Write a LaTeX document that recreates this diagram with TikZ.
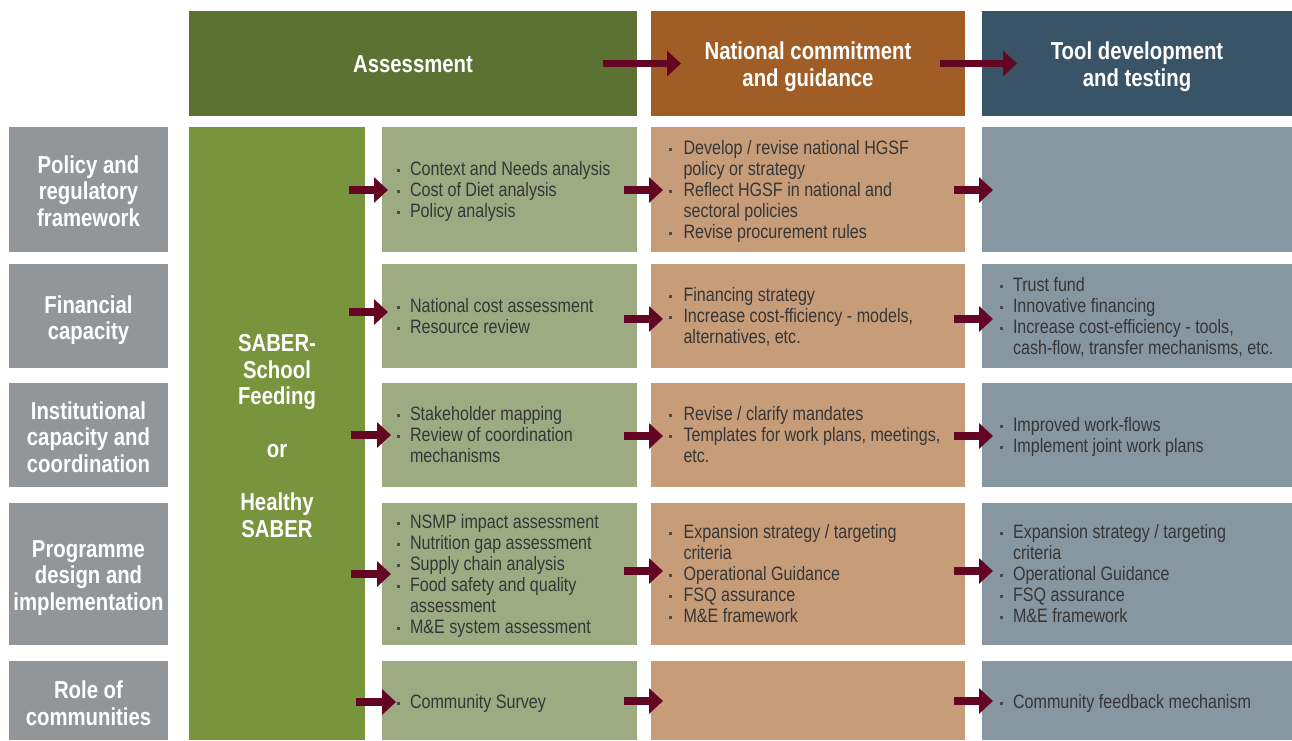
\documentclass[tikz,border=0pt]{standalone}
\usepackage{fontspec}
\setmainfont{Liberation Sans}[FakeStretch=0.83]
\newfontfamily\hdfont{Liberation Sans}[FakeStretch=0.83]
\usetikzlibrary{arrows.meta,calc}
\definecolor{hdA}{HTML}{5B7233}
\definecolor{hdN}{HTML}{A05E26}
\definecolor{hdT}{HTML}{395467}
\definecolor{labc}{HTML}{939698}
\definecolor{saberc}{HTML}{78943C}
\definecolor{grc}{HTML}{9CAB82}
\definecolor{orc}{HTML}{C69C79}
\definecolor{tlc}{HTML}{8697A1}
\definecolor{arrc}{HTML}{640623}
\definecolor{bodyc}{HTML}{363636}
\definecolor{bulc}{HTML}{4A4A4A}
\newcommand{\bul}{\makebox[13pt][l]{\textcolor{bulc}{\rule[3.5pt]{3pt}{3pt}}}}
\newcommand{\bulo}{\makebox[14.5pt][l]{\textcolor{bulc}{\rule[3.5pt]{3pt}{3pt}}}}
\newcommand{\bodyf}{\fontsize{19.4}{21}\selectfont}
\newcommand{\headf}{\hdfont\bfseries\fontsize{24.5}{26.5}\selectfont}
\tikzset{
  box/.style={inner sep=0pt, outer sep=0pt, draw=none, anchor=north west},
  headbox/.style={box, minimum height=105pt},
  labbox/.style={box, fill=labc, minimum width=159pt},
  headtxt/.style={inner sep=0pt, text=white, align=center, font=\headf},
  grbox/.style={box, fill=grc, minimum width=255pt},
  orbox/.style={box, fill=orc, minimum width=314pt},
  tlbox/.style={box, fill=tlc, minimum width=310pt},
  txt/.style={inner sep=0pt, outer sep=0pt, anchor=west, font=\bodyf, text=bodyc},
  arr/.style={draw=arrc, line width=7.5pt, -{Triangle[length=14pt,width=25pt]}},
}
\begin{document}
\begin{tikzpicture}[x=1pt,y=-1pt]
\useasboundingbox[fill=white] (0,0) rectangle (1292,740);
% headers
\node[headbox, fill=hdA, minimum width=448pt] (hA) at (189,11) {};
\node[headbox, fill=hdN, minimum width=314pt] (hN) at (651,11) {};
\node[headbox, fill=hdT, minimum width=310pt] (hT) at (982,11) {};
\node[headtxt] (hAt) at ($(hA.center)+(0,1)$) {Assessment};
\node[headtxt] (hNt) at ($(hN.center)+(0,3)$) {National commitment\\and guidance};
\node[headtxt] (hTt) at ($(hT.center)+(0,3)$) {Tool development\\and testing};
% row labels
\node[labbox, minimum height=125pt] (L1) at (9,127) {};
\node[labbox, minimum height=104pt] (L2) at (9,264) {};
\node[labbox, minimum height=104pt] (L3) at (9,383) {};
\node[labbox, minimum height=142pt] (L4) at (9,503) {};
\node[labbox, minimum height=79pt] (L5) at (9,661) {};
\node[headtxt] (L1t) at ($(L1.center)+(0,1.5)$) {Policy and\\regulatory\\framework};
\node[headtxt] (L2t) at ($(L2.center)+(0,4)$) {Financial\\capacity};
\node[headtxt] (L3t) at ($(L3.center)+(0,2)$) {Institutional\\capacity and\\coordination};
\node[headtxt] (L4t) at ($(L4.center)+(0,4)$) {Programme\\design and\\implementation};
\node[headtxt] (L5t) at ($(L5.center)+(0,2.5)$) {Role of\\communities};
% SABER column
\node[box, fill=saberc, minimum width=176pt, minimum height=613pt] (S) at (189,127) {};
\node[headtxt] (St) at ($(S.center)+(0,2.5)$)
  {SABER-\\School\\Feeding\\[26.5pt]or\\[26.5pt]Healthy\\SABER};
% content boxes
\node[grbox, minimum height=125pt] (g1) at (382,127) {};
\node[grbox, minimum height=104pt] (g2) at (382,264) {};
\node[grbox, minimum height=104pt] (g3) at (382,383) {};
\node[grbox, minimum height=142pt] (g4) at (382,503) {};
\node[grbox, minimum height=79pt] (g5) at (382,661) {};
\node[orbox, minimum height=125pt] (o1) at (651,127) {};
\node[orbox, minimum height=104pt] (o2) at (651,264) {};
\node[orbox, minimum height=104pt] (o3) at (651,383) {};
\node[orbox, minimum height=142pt] (o4) at (651,503) {};
\node[orbox, minimum height=79pt] (o5) at (651,661) {};
\node[tlbox, minimum height=125pt] (t1) at (982,127) {};
\node[tlbox, minimum height=104pt] (t2) at (982,264) {};
\node[tlbox, minimum height=104pt] (t3) at (982,383) {};
\node[tlbox, minimum height=142pt] (t4) at (982,503) {};
\node[tlbox, minimum height=79pt] (t5) at (982,661) {};
% texts
\node[txt] (xg1) at ($(g1.west)+(15,2.5)$) {\begin{tabular}{@{}l@{}l@{}}\bul&Context and Needs analysis\\\bul&Cost of Diet analysis\\\bul&Policy analysis\end{tabular}};
\node[txt] (xg2) at ($(g2.west)+(15,2.5)$) {\begin{tabular}{@{}l@{}l@{}}\bul&National cost assessment\\\bul&Resource review\end{tabular}};
\node[txt] (xg3) at ($(g3.west)+(15,2.5)$) {\begin{tabular}{@{}l@{}l@{}}\bul&Stakeholder mapping\\\bul&Review of coordination\\&mechanisms\end{tabular}};
\node[txt] (xg4) at ($(g4.west)+(15,2.5)$) {\begin{tabular}{@{}l@{}l@{}}\bul&NSMP impact assessment\\\bul&Nutrition gap assessment\\\bul&Supply chain analysis\\\bul&Food safety and quality\\&assessment\\\bul&M\&E system assessment\end{tabular}};
\node[txt] (xg5) at ($(g5.west)+(15,3.5)$) {\begin{tabular}{@{}l@{}l@{}}\bul&Community Survey\end{tabular}};
\node[txt] (xo1) at ($(o1.west)+(18,2.5)$) {\begin{tabular}{@{}l@{}l@{}}\bulo&Develop / revise national HGSF\\&policy or strategy\\\bulo&Reflect HGSF in national and\\&sectoral policies\\\bulo&Revise procurement rules\end{tabular}};
\node[txt] (xo2) at ($(o2.west)+(18,2.5)$) {\begin{tabular}{@{}l@{}l@{}}\bulo&Financing strategy\\\bulo&Increase cost-fficiency - models,\\&alternatives, etc.\end{tabular}};
\node[txt] (xo3) at ($(o3.west)+(18,2.5)$) {\begin{tabular}{@{}l@{}l@{}}\bulo&Revise / clarify mandates\\\bulo&Templates for work plans, meetings,\\&etc.\end{tabular}};
\node[txt] (xo4) at ($(o4.west)+(18,2.5)$) {\begin{tabular}{@{}l@{}l@{}}\bulo&Expansion strategy / targeting\\&criteria\\\bulo&Operational Guidance\\\bulo&FSQ assurance\\\bulo&M\&E framework\end{tabular}};
\node[txt] (xt2) at ($(t2.west)+(18,2.5)$) {\begin{tabular}{@{}l@{}l@{}}\bul&Trust fund\\\bul&Innovative financing\\\bul&Increase cost-efficiency - tools,\\&cash-flow, transfer mechanisms, etc.\end{tabular}};
\node[txt] (xt3) at ($(t3.west)+(18,2.5)$) {\begin{tabular}{@{}l@{}l@{}}\bul&Improved work-flows\\\bul&Implement joint work plans\end{tabular}};
\node[txt] (xt4) at ($(t4.west)+(18,2.5)$) {\begin{tabular}{@{}l@{}l@{}}\bul&Expansion strategy / targeting\\&criteria\\\bul&Operational Guidance\\\bul&FSQ assurance\\\bul&M\&E framework\end{tabular}};
\node[txt] (xt5) at ($(t5.west)+(18,3.5)$) {\begin{tabular}{@{}l@{}l@{}}\bul&Community feedback mechanism\end{tabular}};
% header arrows
\draw[arr] ($(hA.east)+(-34,0)$) -- ($(hN.west)+(30,0)$);
\draw[arr] ($(hN.east)+(-25,0)$) -- ($(hT.west)+(35,0)$);
% column 1 arrows
\draw[arr] ($(g1.west)+(-33,0.5)$) -- ($(g1.west)+(6,0.5)$);
\draw[arr] ($(g2.west)+(-33,-4)$) -- ($(g2.west)+(6,-4)$);
\draw[arr] ($(g3.west)+(-31,0)$) -- ($(g3.west)+(9,0)$);
\draw[arr] ($(g4.west)+(-31,0)$) -- ($(g4.west)+(9,0)$);
\draw[arr] ($(g5.west)+(-26,1.5)$) -- ($(g5.west)+(14,1.5)$);
% column 2 arrows
\draw[arr] ($(g1.east)+(-13,0.5)$) -- ($(o1.west)+(12,0.5)$);
\draw[arr] ($(g2.east)+(-13,3)$) -- ($(o2.west)+(12,3)$);
\draw[arr] ($(g3.east)+(-13,1)$) -- ($(o3.west)+(12,1)$);
\draw[arr] ($(g4.east)+(-13,-3)$) -- ($(o4.west)+(12,-3)$);
\draw[arr] ($(g5.east)+(-13,0.5)$) -- ($(o5.west)+(12,0.5)$);
% column 3 arrows
\draw[arr] ($(o1.east)+(-11,0.5)$) -- ($(t1.west)+(11,0.5)$);
\draw[arr] ($(o2.east)+(-11,3)$) -- ($(t2.west)+(11,3)$);
\draw[arr] ($(o3.east)+(-11,1)$) -- ($(t3.west)+(11,1)$);
\draw[arr] ($(o4.east)+(-11,-3)$) -- ($(t4.west)+(11,-3)$);
\draw[arr] ($(o5.east)+(-11,0.5)$) -- ($(t5.west)+(11,0.5)$);
\end{tikzpicture}
\end{document}
